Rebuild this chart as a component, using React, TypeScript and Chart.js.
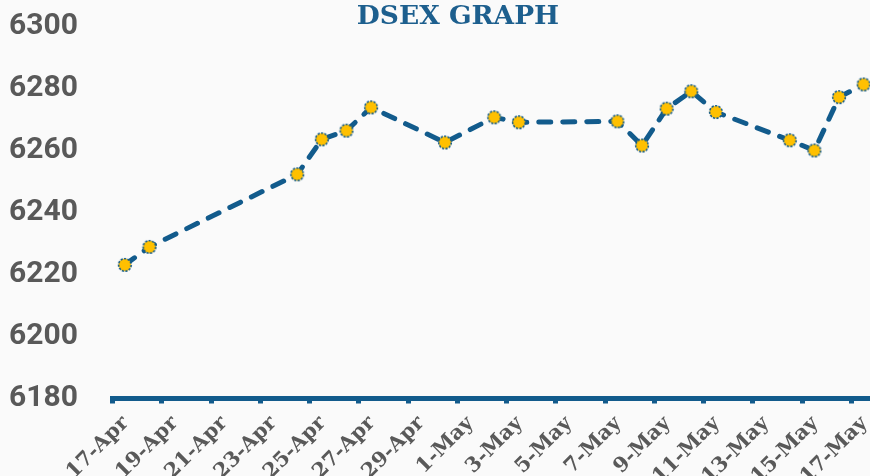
import React, { useEffect, useRef } from 'react';
import { Chart, registerables } from 'chart.js';

Chart.register(...registerables);

const chartTitle = 'DSEX GRAPH';
const tradeDates = [
  '17-Apr', '18-Apr', '24-Apr', '25-Apr', '26-Apr', '27-Apr', '30-Apr',
  '2-May', '3-May', '7-May', '8-May', '9-May', '10-May', '11-May',
  '14-May', '15-May', '16-May', '17-May',
];
const indexValues = [
  6223.1, 6228.9, 6252.3, 6263.6, 6266.4, 6273.9, 6262.6,
  6270.7, 6269.1, 6269.4, 6261.6, 6273.5, 6279.1, 6272.4,
  6263.3, 6260.0, 6277.2, 6281.3,
];
const axisStartDate = '17-Apr';
const axisEndDate = '18-May';
const tickStepDays = 2;
const yMin = 6180;
const yMax = 6300;
const yStep = 20;

const MONTH_NAMES = ['Jan', 'Feb', 'Mar', 'Apr', 'May', 'Jun', 'Jul', 'Aug', 'Sep', 'Oct', 'Nov', 'Dec'];
const DAY_MS = 86400000;

function toDayNumber(label: string): number {
  const [d, m] = label.split('-');
  return Date.UTC(2018, MONTH_NAMES.indexOf(m), Number(d)) / DAY_MS;
}
function dayLabel(offset: number): string {
  const dt = new Date((toDayNumber(axisStartDate) + offset) * DAY_MS);
  return `${dt.getUTCDate()}-${MONTH_NAMES[dt.getUTCMonth()]}`;
}

const BLUE = '#125B8C';
const YELLOW = '#FFC000';
const GREY = '#595959';

function makePointImage(): HTMLCanvasElement {
  const c = document.createElement('canvas');
  c.width = 16;
  c.height = 16;
  const ctx = c.getContext('2d')!;
  ctx.beginPath();
  ctx.arc(8, 8, 6.3, 0, Math.PI * 2);
  ctx.fillStyle = YELLOW;
  ctx.fill();
  ctx.setLineDash([2.2, 1.3]);
  ctx.lineWidth = 1.6;
  ctx.strokeStyle = BLUE;
  ctx.stroke();
  return c;
}

export default function App() {
  const canvasRef = useRef<HTMLCanvasElement | null>(null);

  useEffect(() => {
    if (!canvasRef.current) return;
    const start = toDayNumber(axisStartDate);
    const span = toDayNumber(axisEndDate) - start;
    const points = tradeDates.map((d, i) => ({ x: toDayNumber(d) - start + 0.5, y: indexValues[i] }));
    const tickValues: number[] = [];
    for (let v = 0; v < span; v += tickStepDays) tickValues.push(v);

    const titlePlugin = {
      id: 'customTitle',
      afterDraw(chart: any) {
        const ctx = chart.ctx;
        ctx.save();
        ctx.font = 'bold 26.5px "DejaVu Serif", serif';
        ctx.fillStyle = '#1D5F8E';
        ctx.textAlign = 'center';
        ctx.textBaseline = 'middle';
        ctx.fillText(chartTitle, 458, 17);
        ctx.restore();
      },
    };

    const chart = new Chart(canvasRef.current, {
      type: 'line',
      data: {
        datasets: [
          {
            label: 'DSEX',
            data: points,
            borderColor: BLUE,
            borderWidth: 5,
            borderDash: [12, 12],
            borderCapStyle: 'round',
            borderJoinStyle: 'round',
            pointStyle: makePointImage() as any,
            pointRadius: 7,
            tension: 0,
            fill: false,
            clip: false as any,
          },
        ],
      },
      options: {
        animation: false,
        responsive: false,
        maintainAspectRatio: false,
        layout: { autoPadding: false, padding: { left: 9, top: 26.5, right: 0, bottom: 0 } },
        plugins: { legend: { display: false }, tooltip: { enabled: false }, title: { display: false } },
        scales: {
          x: {
            type: 'linear',
            min: 0,
            max: span,
            afterBuildTicks(scale: any) {
              scale.ticks = tickValues.map((v) => ({ value: v }));
            },
            afterFit(scale: any) {
              scale.height = 77.5;
              scale.paddingLeft = 0;
              scale.paddingRight = 0;
            },
            border: { display: true, width: 5, color: BLUE },
            grid: {
              display: true,
              drawOnChartArea: false,
              drawTicks: true,
              tickLength: 5,
              tickWidth: 5,
              tickColor: BLUE,
            },
            ticks: {
              minRotation: 45,
              maxRotation: 45,
              autoSkip: false,
              padding: 8,
              labelOffset: 13,
              color: GREY,
              font: { family: '"DejaVu Serif", serif', weight: 'bold', size: 20.5 },
              callback: (v: any) => dayLabel(Number(v)),
            },
          },
          y: {
            min: yMin,
            max: yMax,
            afterFit(scale: any) {
              scale.width = 103.5;
            },
            border: { display: false },
            grid: { display: false, drawTicks: false },
            ticks: {
              stepSize: yStep,
              crossAlign: 'far',
              padding: 0,
              color: GREY,
              font: { family: 'Roboto', weight: 'bold', size: 30 },
              callback: (v: any) => String(v),
            },
          },
        },
      },
      plugins: [titlePlugin],
    });
    return () => chart.destroy();
  }, []);

  return (
    <div
      style={{
        position: 'fixed',
        left: 0,
        top: 0,
        width: 870,
        height: 476,
        overflow: 'hidden',
        background: '#FAFAFA',
      }}
    >
      <canvas ref={canvasRef} width={876} height={476} style={{ display: 'block', width: 876, height: 476 }} />
    </div>
  );
}
